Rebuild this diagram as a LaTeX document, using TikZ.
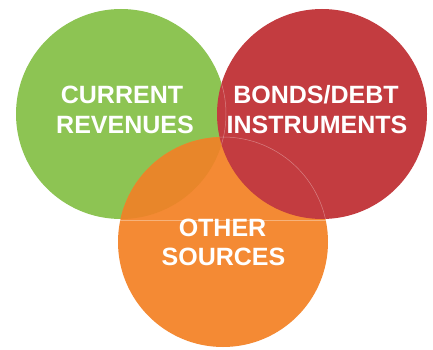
\documentclass[tikz,border=0pt]{standalone}
\usepackage{fontspec}
\setmainfont{Liberation Sans}
\definecolor{cgreen}{HTML}{8DC453}
\definecolor{cred}{HTML}{C33C40}
\definecolor{corange}{HTML}{F48A34}
\definecolor{clens}{HTML}{E8862A}
\begin{document}
\begin{tikzpicture}[x=1pt,y=-1pt]
\tikzset{
  disc/.style={circle, minimum size=210pt, inner sep=0pt, draw=none},
  lbl/.style={text=white, font=\bfseries\fontsize{25}{30}\selectfont, anchor=base, inner sep=0pt},
  faint/.style={draw=white, draw opacity=0.35, line width=0.5pt}
}
\useasboundingbox (0,0) rectangle (433,350);
\fill[white] (0,0) rectangle (433,350);
\node[disc, fill=cgreen] (g) at (121,114) {};
\node[disc, fill=corange] (o) at (223,242) {};
\begin{scope}
  \clip (121,114) circle (105pt);
  \fill[clens] (223,242) circle (105pt);
\end{scope}
\node[disc, fill=cred] (r) at (322,114) {};
\begin{scope}
  \clip (322,114) circle (105pt);
  \draw[faint] (223,242) circle (105pt);
  \draw[faint] (121,114) circle (105pt);
\end{scope}
\begin{scope}
  \clip (223,242) circle (105pt);
  \draw[faint] (118,220) -- (328,220);
\end{scope}
\node[lbl] (c1) at (122,103) {CURRENT};
\node[lbl] (c2) at (125,133) {REVENUES};
\node[lbl] (b1) at (316,103) {BONDS/DEBT};
\node[lbl] (b2) at (317,133) {INSTRUMENTS};
\node[lbl] (s1) at (222.5,236) {OTHER};
\node[lbl] (s2) at (223.5,265) {SOURCES};
\end{tikzpicture}
\end{document}
